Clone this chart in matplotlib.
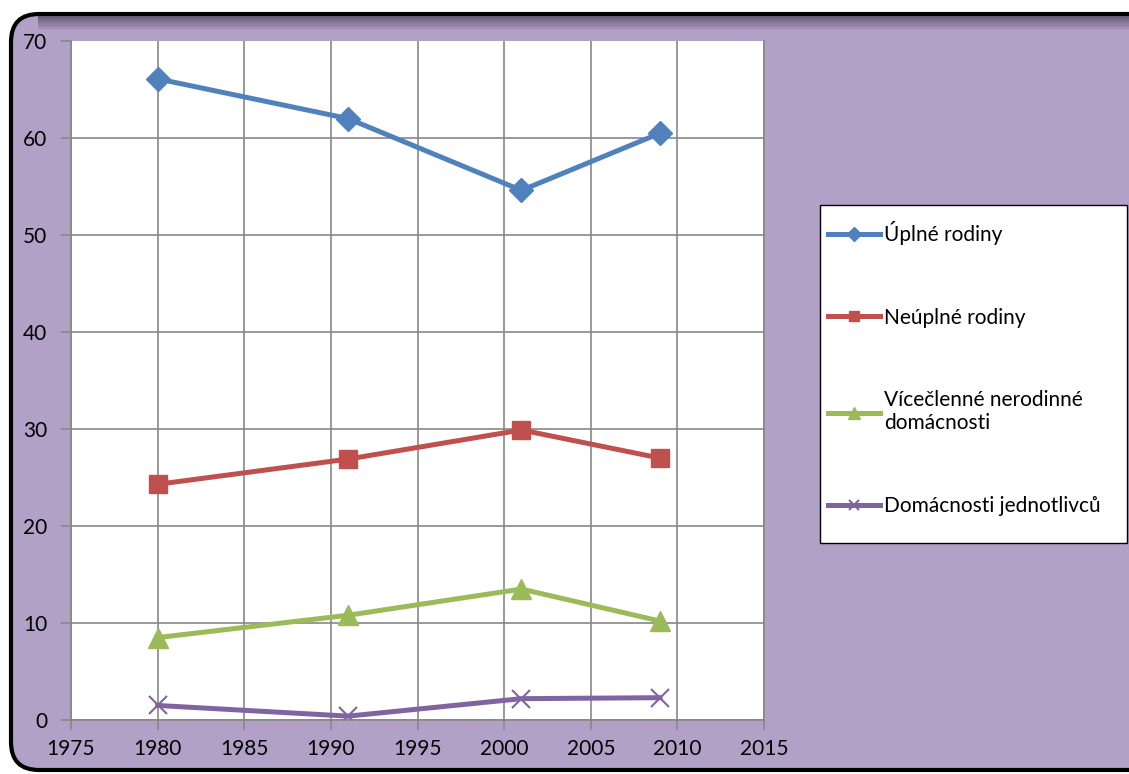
import matplotlib.pyplot as plt
from matplotlib.patches import FancyBboxPatch
import numpy as np

# Data
years = [1980, 1991, 2001, 2009]
uplne = [66.1, 62.0, 54.6, 60.5]
neuplne = [24.3, 26.9, 29.9, 27.0]
viceclenne = [8.5, 10.8, 13.5, 10.2]
jednotlivci = [1.5, 0.4, 2.2, 2.3]

labels = ["Úplné rodiny", "Neúplné rodiny",
          "Vícečlenné nerodinné\ndomácnosti", "Domácnosti jednotlivců"]

plt.rcParams['font.family'] = ['Lato', 'DejaVu Sans']

W, H = 1129, 774
fig = plt.figure(figsize=(W / 100, H / 100), dpi=100)
fig.patch.set_facecolor('white')

# background axes holding the purple rounded frame (pixel coords)
bgax = fig.add_axes([0, 0, 1, 1], zorder=-5)
bgax.set_xlim(0, W)
bgax.set_ylim(0, H)
bgax.axis('off')
bgax.add_patch(FancyBboxPatch((11, 4), W + 40, H - 18,
                              boxstyle="round,pad=0,rounding_size=28",
                              facecolor='#B1A1C7', edgecolor='black',
                              linewidth=3))
for i, a in enumerate(np.linspace(0.6, 0.0, 10)):
    bgax.add_patch(plt.Rectangle((38, H - 16 - (i + 1) * 1.6), W, 1.6,
                                 facecolor='#3a3045', alpha=a,
                                 edgecolor='none'))
# legend box
bgax.add_patch(plt.Rectangle((820, H - 543), 307, 338, facecolor='white',
                             edgecolor='black', linewidth=1))

ax = fig.add_axes([71 / W, 1 - 720 / H, (764 - 71) / W, (720 - 41) / H],
                  zorder=1)
ax.set_facecolor('white')

grey = '#878787'
ax.plot(years, uplne, color='#4F81BD', lw=3.6, marker='D', ms=12, label=labels[0])
ax.plot(years, neuplne, color='#C0504D', lw=3.6, marker='s', ms=13, label=labels[1])
ax.plot(years, viceclenne, color='#9BBB59', lw=3.6, marker='^', ms=15, label=labels[2])
ax.plot(years, jednotlivci, color='#8064A2', lw=3.6, marker='x', ms=13, mew=1.5,
        label=labels[3])

ax.set_xlim(1975, 2015)
ax.set_ylim(0, 70)
ax.set_xticks(range(1975, 2016, 5))
ax.set_yticks(range(0, 71, 10))
ax.grid(True, color=grey, lw=1.2)
ax.yaxis.get_gridlines()[-1].set_visible(False)
ax.set_axisbelow(True)
ax.spines['top'].set_visible(False)
for s in ['left', 'bottom', 'right']:
    ax.spines[s].set_color(grey)
    ax.spines[s].set_linewidth(1.2)
ax.tick_params(axis='both', colors=grey, length=7, width=1.2, labelsize=15,
               labelcolor='black')
ax.tick_params(axis='x', pad=7)
ax.tick_params(axis='y', pad=10)

leg = fig.legend(loc='upper left', bbox_to_anchor=(822 / W, 1 - 215 / H),
                 bbox_transform=fig.transFigure, frameon=False,
                 fontsize=15, labelspacing=3.0, handlelength=2.5,
                 handletextpad=0.2, borderpad=0.3, borderaxespad=0,
                 markerscale=0.6)
leg.set_zorder(10)

fig.savefig('out.png', dpi=100, facecolor=fig.get_facecolor())
